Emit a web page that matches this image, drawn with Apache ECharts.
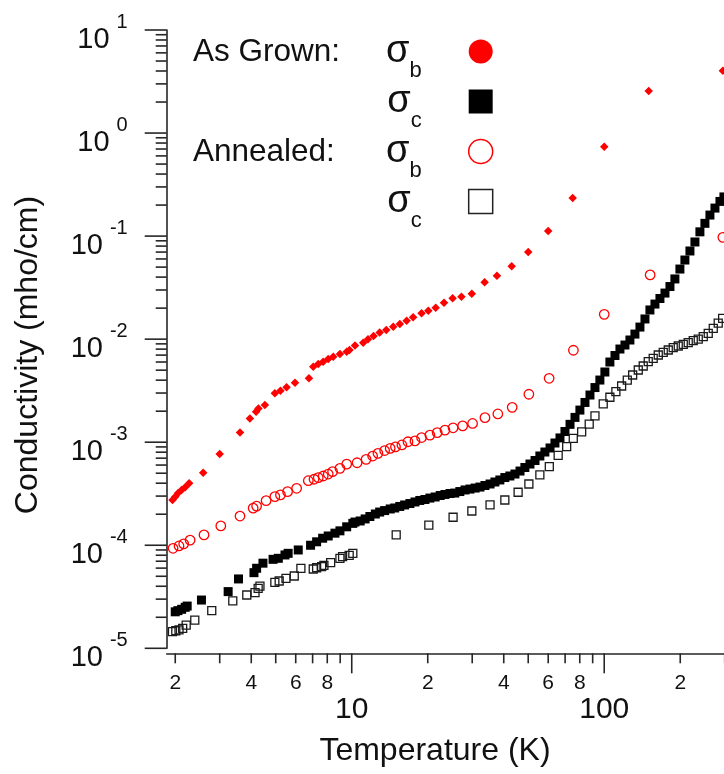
<!DOCTYPE html>
<html>
<head>
<meta charset="utf-8">
<title>Conductivity vs Temperature</title>
<script src="https://cdn.jsdelivr.net/npm/echarts@6/dist/echarts.min.js"></script>
<style>
  html, body { margin: 0; padding: 0; background: #ffffff; }
  #chart { width: 724px; height: 774px; }
</style>
</head>
<body>
<div id="chart"></div>
<script>
// ---- measured data: temperature (K) and conductivity (mho/cm) ----
const grownB_T = [1.95, 2.00, 2.05, 2.12, 2.19, 2.27, 2.58, 3.00, 3.61, 3.95,
  4.18, 4.27, 4.53, 4.96, 5.22, 5.52, 5.96, 6.77, 7.04, 7.37,
  7.71, 8.07, 8.45, 8.98, 9.55, 9.80, 10.3, 11.1, 11.6, 12.2,
  12.9, 13.7, 14.6, 15.5, 16.5, 17.5, 18.9, 20.1, 21.5, 23.2,
  25.1, 27.2, 29.9, 33.6, 37.6, 43.0, 50.0, 60.0, 75.0, 100,
  150, 295];
const grownB_S = [2.75e-4, 2.96e-4, 3.19e-4, 3.44e-4, 3.65e-4, 3.99e-4, 5.06e-4, 7.69e-4, 1.24e-3, 1.70e-3,
  1.98e-3, 2.12e-3, 2.30e-3, 2.98e-3, 3.16e-3, 3.41e-3, 3.78e-3, 4.17e-3, 5.40e-3, 5.74e-3,
  6.04e-3, 6.42e-3, 6.76e-3, 7.18e-3, 7.55e-3, 7.85e-3, 8.70e-3, 9.24e-3, 9.96e-3, 1.07e-2,
  1.16e-2, 1.23e-2, 1.32e-2, 1.40e-2, 1.51e-2, 1.63e-2, 1.78e-2, 1.89e-2, 2.02e-2, 2.26e-2,
  2.49e-2, 2.58e-2, 2.76e-2, 3.56e-2, 4.13e-2, 5.09e-2, 7.02e-2, 0.112, 0.234, 0.737,
  2.56, 4.03];

const grownC_T = [2.00, 2.05, 2.12, 2.19, 2.23, 2.54, 3.24, 3.56, 4.10, 4.20,
  4.45, 4.88, 5.12, 5.44, 5.60, 6.14, 6.87, 7.26, 7.67, 8.07,
  8.58, 8.98, 9.55, 10.1,
  10.3, 10.8, 11.3, 11.8, 12.4, 12.9, 13.5, 14.2, 14.8, 15.5,
  16.2, 17.0, 17.8, 18.6, 19.5, 20.4, 21.4, 22.4, 23.4, 24.5,
  25.6, 26.8, 28.1, 29.4, 30.8, 32.2, 33.7, 35.3, 36.9, 38.6,
  40.4, 42.3, 44.3, 46.4, 48.5, 50.8, 53.2, 55.6, 58.2, 61.0,
  63.8, 66.8, 69.9, 73.2, 76.6, 80.1, 83.9, 87.8, 91.9, 96.1,
  100.6, 105.3, 110.3, 115.4, 120.8, 126.4, 132.3, 138.5, 145.0, 151.7,
  158.8, 166.2, 174.0, 182.1, 190.5, 199.4, 208.7, 218.5, 228.7, 239.3,
  250.5, 262.2, 274.5, 287.3, 297.9];
const grownC_S = [2.26e-5, 2.32e-5, 2.39e-5, 2.50e-5, 2.57e-5, 2.94e-5, 3.55e-5, 4.71e-5, 5.42e-5, 5.98e-5,
  6.70e-5, 7.30e-5, 7.47e-5, 8.05e-5, 8.35e-5, 9.00e-5, 1.00e-4, 1.08e-4, 1.17e-4, 1.23e-4,
  1.31e-4, 1.38e-4, 1.51e-4, 1.63e-4,
  1.68e-4, 1.72e-4, 1.80e-4, 1.90e-4, 2.01e-4, 2.10e-4, 2.17e-4, 2.25e-4, 2.30e-4, 2.38e-4,
  2.46e-4, 2.54e-4, 2.63e-4, 2.72e-4, 2.78e-4, 2.87e-4, 2.94e-4, 3.04e-4, 3.11e-4, 3.18e-4,
  3.21e-4, 3.32e-4, 3.44e-4, 3.51e-4, 3.59e-4, 3.67e-4, 3.80e-4, 3.93e-4, 4.11e-4, 4.30e-4,
  4.54e-4, 4.70e-4, 4.91e-4, 5.25e-4, 5.68e-4, 6.14e-4, 6.64e-4, 7.35e-4, 8.03e-4, 8.79e-4,
  9.82e-4, 1.10e-3, 1.27e-3, 1.49e-3, 1.74e-3, 2.05e-3, 2.43e-3, 2.87e-3, 3.39e-3, 4.01e-3,
  4.80e-3, 6.00e-3, 6.94e-3, 8.02e-3, 8.77e-3, 9.81e-3, 1.12e-2, 1.31e-2, 1.57e-2, 1.92e-2,
  2.19e-2, 2.48e-2, 2.80e-2, 3.24e-2, 3.84e-2, 4.79e-2, 5.86e-2, 7.17e-2, 8.77e-2, 0.110,
  0.133, 0.160, 0.187, 0.217, 0.240];

const annealB_T = [1.96, 2.07, 2.16, 2.29, 2.60, 3.03, 3.61, 4.07, 4.20, 4.58,
  4.96, 5.22, 5.57, 6.05, 6.73, 7.09, 7.37, 7.71, 8.07, 8.40,
  8.98, 9.55, 10.5, 11.4, 12.1, 12.7, 13.5, 14.2, 14.9, 15.8,
  16.7, 17.8, 18.9, 20.4, 21.8, 23.4, 25.2, 27.5, 30.1, 33.7,
  37.9, 43.2, 50.3, 60.5, 75.5, 100, 152, 295];
const annealB_S = [9.34e-5, 9.84e-5, 1.03e-4, 1.12e-4, 1.26e-4, 1.54e-4, 1.92e-4, 2.29e-4, 2.40e-4, 2.71e-4,
  2.96e-4, 3.08e-4, 3.31e-4, 3.57e-4, 4.23e-4, 4.37e-4, 4.53e-4, 4.70e-4, 4.91e-4, 5.18e-4,
  5.58e-4, 6.13e-4, 6.32e-4, 6.82e-4, 7.34e-4, 7.80e-4, 8.30e-4, 8.70e-4, 9.00e-4, 9.40e-4,
  1.01e-3, 1.03e-3, 1.11e-3, 1.17e-3, 1.24e-3, 1.31e-3, 1.38e-3, 1.44e-3, 1.52e-3, 1.73e-3,
  1.88e-3, 2.18e-3, 2.92e-3, 4.17e-3, 7.80e-3, 1.74e-2, 4.20e-2, 9.73e-2];

const annealC_T = [1.95, 2.01, 2.07, 2.14, 2.21, 2.39, 2.79, 3.38, 3.84, 4.14,
  4.26, 4.33, 4.96, 5.16, 5.49, 5.92, 6.29, 7.04, 7.26, 7.60,
  7.76, 8.25, 8.98, 9.20, 9.77, 10.1, 15.0, 20.2, 25.2, 29.9,
  35.3, 40.4, 45.6, 50.3, 55.6, 60.6, 65.7, 71.0, 75.4, 81.4,
  87.2, 91.9, 99.1, 105.3, 111.2, 117.2, 123.4, 129.6, 136.4, 142.7,
  149.4, 156.3, 163.7, 171.3, 179.3, 187.6, 196.4, 205.6, 215.1, 225.2,
  235.7, 246.7, 258.2, 270.3, 282.8, 294.4];
const annealC_S = [1.45e-5, 1.48e-5, 1.51e-5, 1.56e-5, 1.68e-5, 1.88e-5, 2.32e-5, 2.88e-5, 3.29e-5, 3.47e-5,
  3.82e-5, 4.02e-5, 4.37e-5, 4.50e-5, 4.78e-5, 5.03e-5, 5.97e-5, 5.88e-5, 6.05e-5, 6.19e-5,
  6.39e-5, 6.77e-5, 7.47e-5, 7.75e-5, 7.99e-5, 8.35e-5, 1.26e-4, 1.57e-4, 1.87e-4, 2.15e-4,
  2.46e-4, 2.75e-4, 3.27e-4, 3.93e-4, 4.81e-4, 5.79e-4, 7.45e-4, 9.04e-4, 1.09e-3, 1.26e-3,
  1.50e-3, 1.80e-3, 2.35e-3, 2.73e-3, 3.09e-3, 3.51e-3, 4.01e-3, 4.49e-3, 5.02e-3, 5.49e-3,
  6.04e-3, 6.52e-3, 7.02e-3, 7.45e-3, 7.85e-3, 8.26e-3, 8.58e-3, 8.91e-3, 9.24e-3, 9.66e-3,
  1.00e-2, 1.06e-2, 1.14e-2, 1.27e-2, 1.43e-2, 1.59e-2];

// ---- axis ticks and labels ----
const xMinorTicks = [2, 3, 4, 5, 6, 7, 8, 9, 20, 30, 40, 50, 60, 70, 80, 90, 200, 300];
const xMajorTicks = [10, 100];
const xDigitLabelVals = [2, 4, 6, 8, 20, 40, 60, 80, 200];
const xDigitLabelText = ['2', '4', '6', '8', '2', '4', '6', '8', '2'];
const xDecadeLabelVals = [10, 100];
const xDecadeLabelText = ['10', '100'];
const yDecadeExps = [-5, -4, -3, -2, -1, 0, 1];
const yMinorMultipliers = [2, 3, 4, 5, 6, 7, 8, 9];

// ---- layout constants ----
const X_MIN = 1.85, X_MAX = 300, Y_MIN = 1e-5, Y_MAX = 10;
const X_AXIS_OFFSET = 5;
const FONT = '"Liberation Sans", Arial, sans-serif';
const AXIS_COLOR = '#262626';
const TEXT_COLOR = '#111111';
const RED = '#ff0000';

const pairs = (xs, ys) => xs.map((x, i) => [x, ys[i]]);

const yMajorTicks = yDecadeExps.map(e => Math.pow(10, e));
const yMinorTicks = [];
yDecadeExps.slice(0, -1).forEach(e => {
  yMinorMultipliers.forEach(m => yMinorTicks.push(m * Math.pow(10, e)));
});

function tickSeries(vals, axis, len) {
  return {
    type: 'custom', silent: true, clip: false, z: 3,
    data: vals.map(v => axis === 'x' ? [v, Y_MIN] : [X_MIN, v]),
    renderItem: (params, api) => {
      const p = api.coord([api.value(0), api.value(1)]);
      const shape = axis === 'x'
        ? { x1: p[0], y1: p[1] + X_AXIS_OFFSET, x2: p[0], y2: p[1] + X_AXIS_OFFSET + len }
        : { x1: p[0] - len, y1: p[1], x2: p[0], y2: p[1] };
      return { type: 'line', shape: shape, style: { stroke: AXIS_COLOR, lineWidth: 1.6 } };
    }
  };
}

function xLabelSeries(vals, texts, dy, fontSize) {
  return {
    type: 'custom', silent: true, clip: false, z: 3,
    data: vals.map(v => [v, Y_MIN]),
    renderItem: (params, api) => {
      const p = api.coord([api.value(0), api.value(1)]);
      return {
        type: 'text', x: p[0], y: p[1] + dy,
        style: {
          text: texts[params.dataIndex], fontSize: fontSize, fontFamily: FONT,
          fill: TEXT_COLOR, align: 'center', verticalAlign: 'middle'
        }
      };
    }
  };
}

const yLabelSeries = {
  type: 'custom', silent: true, clip: false, z: 3,
  data: yMajorTicks.map(v => [X_MIN, v]),
  renderItem: (params, api) => {
    const p = api.coord([api.value(0), api.value(1)]);
    const exp = yDecadeExps[params.dataIndex];
    return {
      type: 'text', x: p[0] - 39, y: p[1],
      style: {
        text: '{b|10}{e|' + exp + '}',
        align: 'right', verticalAlign: 'middle', fill: TEXT_COLOR,
        rich: {
          b: { fontSize: 29, fontFamily: FONT, lineHeight: 30, padding: [20, 0, 0, 0] },
          e: { fontSize: 20, fontFamily: FONT, lineHeight: 30, padding: [0, 0, 16, 7] }
        }
      }
    };
  }
};

const chart = echarts.init(document.getElementById('chart'), null, { renderer: 'canvas' });

chart.setOption({
  animation: false,
  backgroundColor: '#ffffff',
  grid: { left: 166.7, top: 30, width: 558, height: 618.3, outerBoundsMode: 'none' },
  xAxis: {
    type: 'log', logBase: 10, min: X_MIN, max: X_MAX, offset: X_AXIS_OFFSET,
    axisLine: { show: true, onZero: false, lineStyle: { color: AXIS_COLOR, width: 1.6 } },
    axisTick: { show: false }, axisLabel: { show: false }, splitLine: { show: false }
  },
  yAxis: {
    type: 'log', logBase: 10, min: Y_MIN, max: Y_MAX,
    axisLine: { show: true, onZero: false, lineStyle: { color: AXIS_COLOR, width: 1.6 } },
    axisTick: { show: false }, axisLabel: { show: false }, splitLine: { show: false }
  },
  legend: {
    orient: 'vertical', left: 386, top: 21, padding: 0,
    align: 'right', itemWidth: 24, itemHeight: 24, itemGap: -11,
    selectedMode: false,
    data: [
      { name: 'As Grown σb', icon: 'circle', itemStyle: { color: RED, borderWidth: 0, opacity: 1 } },
      { name: 'As Grown σc', icon: 'rect', itemStyle: { color: '#000', borderWidth: 0, opacity: 1 } },
      { name: 'Annealed σb', icon: 'circle', itemStyle: { color: '#fff', borderColor: RED, borderWidth: 1.5, opacity: 1 } },
      { name: 'Annealed σc', icon: 'rect', itemStyle: { color: '#fff', borderColor: '#222', borderWidth: 1.5, opacity: 1 } }
    ],
    formatter: name => '{g|σ}{s|' + name.slice(-1) + '}',
    textStyle: {
      color: TEXT_COLOR,
      rich: {
        g: { fontSize: 38, fontFamily: FONT, lineHeight: 24 },
        s: { fontSize: 22, fontFamily: FONT, lineHeight: 24, padding: [39, 42, 0, 0] }
      }
    }
  },
  graphic: [
    { type: 'text', x: 193, y: 52, silent: true,
      style: { text: 'As Grown:', fontSize: 31.5, fontFamily: FONT, fill: TEXT_COLOR, align: 'left', verticalAlign: 'middle' } },
    { type: 'text', x: 193, y: 152, silent: true,
      style: { text: 'Annealed:', fontSize: 31.5, fontFamily: FONT, fill: TEXT_COLOR, align: 'left', verticalAlign: 'middle' } },
    { type: 'text', x: 435, y: 751, silent: true,
      style: { text: 'Temperature (K)', fontSize: 32, fontFamily: FONT, fill: TEXT_COLOR, align: 'center', verticalAlign: 'middle' } },
    { type: 'text', x: 28, y: 355, rotation: Math.PI / 2, silent: true,
      style: { text: 'Conductivity (mho/cm)', fontSize: 32, fontFamily: FONT, fill: TEXT_COLOR, align: 'center', verticalAlign: 'middle' } }
  ],
  series: [
    { name: 'As Grown σb', type: 'scatter', data: pairs(grownB_T, grownB_S),
      symbol: 'diamond', symbolSize: 8.5, itemStyle: { color: RED, opacity: 1 },
      emphasis: { disabled: true }, z: 4 },
    { name: 'As Grown σc', type: 'scatter', data: pairs(grownC_T, grownC_S),
      symbol: 'rect', symbolSize: 9, itemStyle: { color: '#000', opacity: 1 },
      emphasis: { disabled: true }, z: 4 },
    { name: 'Annealed σb', type: 'scatter', data: pairs(annealB_T, annealB_S),
      symbol: 'circle', symbolSize: 9.5,
      itemStyle: { color: 'rgba(255,255,255,0)', borderColor: RED, borderWidth: 1.3, opacity: 1 },
      emphasis: { disabled: true }, z: 5 },
    { name: 'Annealed σc', type: 'scatter', data: pairs(annealC_T, annealC_S),
      symbol: 'rect', symbolSize: 8,
      itemStyle: { color: 'rgba(255,255,255,0)', borderColor: '#1a1a1a', borderWidth: 1.3, opacity: 1 },
      emphasis: { disabled: true }, z: 5 },
    tickSeries(xMinorTicks, 'x', 10),
    tickSeries(xMajorTicks, 'x', 20),
    tickSeries(yMinorTicks, 'y', 11),
    tickSeries(yMajorTicks, 'y', 22),
    xLabelSeries(xDigitLabelVals, xDigitLabelText, 34.7, 21),
    xLabelSeries(xDecadeLabelVals, xDecadeLabelText, 61.7, 30),
    yLabelSeries
  ]
});
</script>
</body>
</html>
